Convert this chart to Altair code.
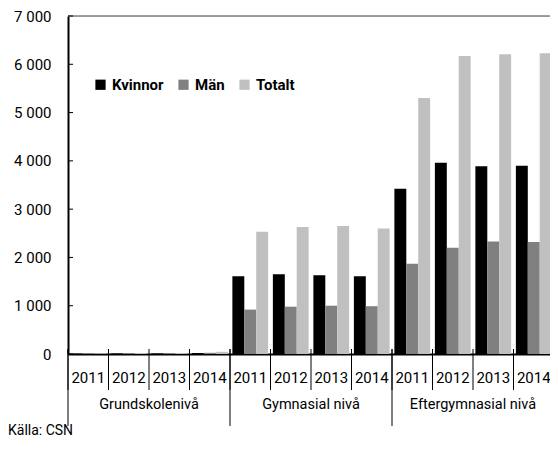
import altair as alt
import pandas as pd

levels = ["Grundskolenivå", "Gymnasial nivå", "Eftergymnasial nivå"]
years = ["2011", "2012", "2013", "2014"]
series = ["Kvinnor", "Män", "Totalt"]
colors = ["#000000", "#808080", "#c0c0c0"]
kvinnor = [8, 12, 12, 20, 1610, 1650, 1630, 1610, 3420, 3960, 3890, 3900]
man = [4, 8, 8, 25, 920, 980, 1000, 990, 1870, 2200, 2330, 2320]
totalt = [12, 20, 20, 45, 2530, 2630, 2650, 2600, 5300, 6170, 6210, 6230]
y_ticks = [0, 1000, 2000, 3000, 4000, 5000, 6000, 7000]
source = "Källa: CSN"

FONT = "Roboto"

cats = [f"{l}|{y}" for l in levels for y in years]
rows = []
for i, c in enumerate(cats):
    for s, vals in zip(series, [kvinnor, man, totalt]):
        rows.append({"cat": c, "series": s, "value": vals[i]})
bars_df = pd.DataFrame(rows)

xscale = alt.Scale(domain=cats, paddingInner=0, paddingOuter=0, range=[0, 486])
yscale = alt.Scale(domain=[0, 7000], nice=False)

bars = alt.Chart(bars_df).mark_bar().encode(
    x=alt.X("cat:N", scale=xscale,
            axis=alt.Axis(labels=False, ticks=False, title=None, domainColor="black", domainWidth=2)),
    xOffset=alt.XOffset("series:N", scale=alt.Scale(domain=series, paddingInner=0, paddingOuter=0.2)),
    y=alt.Y("value:Q", scale=yscale,
            axis=alt.Axis(values=y_ticks, labelExpr="replace(format(datum.value, ','), ',', ' ')",
                          ticks=False, grid=False, title=None, domainColor="black", domainWidth=2,
                          labelFontSize=15, labelPadding=17, labelColor="black", labelFont=FONT)),
    color=alt.Color("series:N", scale=alt.Scale(domain=series, range=colors),
                    legend=alt.Legend(orient="none", legendX=25, legendY=61, direction="horizontal",
                                      title=None, symbolType="square", symbolSize=105,
                                      labelFontSize=15, labelFontWeight="bold", labelFont=FONT,
                                      columnPadding=12, symbolStrokeWidth=0, symbolOpacity=1,
                                      labelOffset=4, padding=0, labelColor="black")),
)

top_line = alt.Chart(pd.DataFrame({"v": [7000]})).mark_rule(color="#808080", strokeWidth=1.5).encode(
    x=alt.value(0), x2=alt.value(492), y=alt.Y("v:Q", scale=yscale)
)

tick_df = pd.DataFrame({"cat": cats, "grp": [i % 4 == 0 for i in range(len(cats))]})
year_ticks = alt.Chart(tick_df).mark_rule(color="black", strokeWidth=1).encode(
    x=alt.X("cat:N", bandPosition=0, scale=xscale),
    y=alt.value(333),
    y2=alt.value(374),
)
grp_ticks = alt.Chart(tick_df[tick_df["grp"]]).mark_rule(color="black", strokeWidth=1).encode(
    x=alt.X("cat:N", bandPosition=0, scale=xscale),
    y=alt.value(333),
    y2=alt.value(410),
)

ylab_df = pd.DataFrame({"cat": cats, "year": [c.split("|")[1] for c in cats]})
year_labels = alt.Chart(ylab_df).mark_text(fontSize=15, font=FONT, color="black", baseline="middle").encode(
    x=alt.X("cat:N", scale=xscale),
    y=alt.value(362),
    text="year:N",
)

glab_df = pd.DataFrame({"cat": [f"{l}|2012" for l in levels], "label": levels})
group_labels = alt.Chart(glab_df).mark_text(fontSize=14.5, font=FONT, color="black", baseline="middle").encode(
    x=alt.X("cat:N", bandPosition=1, scale=xscale),
    y=alt.value(389),
    text="label:N",
)

ytick_df = pd.DataFrame({"v": y_ticks})
yticks = alt.Chart(ytick_df).mark_rule(color="black", strokeWidth=1).encode(
    x=alt.value(0),
    x2=alt.value(5),
    y=alt.Y("v:Q", scale=yscale),
)

src = alt.Chart(pd.DataFrame({"t": [source]})).mark_text(
    fontSize=14, font=FONT, color="black", align="left", baseline="alphabetic"
).encode(text="t:N", x=alt.value(-60), y=alt.value(419))

chart = alt.layer(bars, top_line, yticks, year_ticks, grp_ticks, year_labels, group_labels, src).properties(
    width=482, height=338,
    autosize=alt.AutoSizeParams(type="none"),
    padding={"left": 60, "top": 8, "right": 0, "bottom": 87},
).configure_view(stroke="transparent").configure(font=FONT)

chart.save("out.html", embed_options={"renderer": "svg", "actions": False})
